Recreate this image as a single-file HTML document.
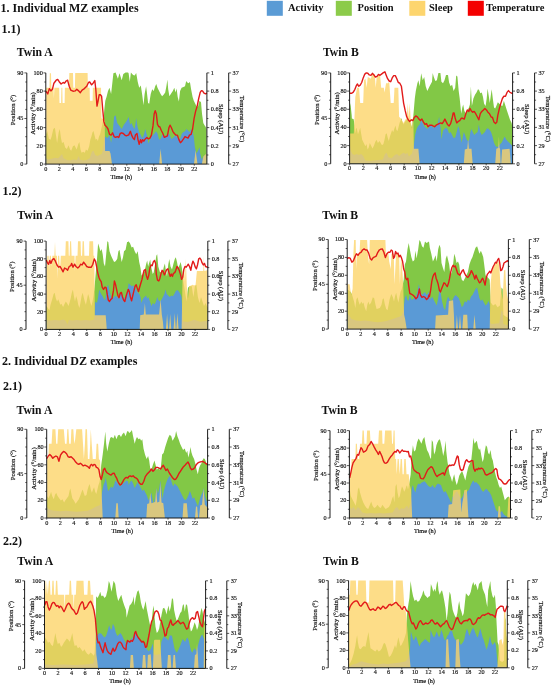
<!DOCTYPE html>
<html lang="en"><head><meta charset="utf-8"><title>Individual MZ and DZ twin examples</title>
<style>html,body{margin:0;padding:0;background:#fff}body{width:551px;height:685px;overflow:hidden}svg{display:block;will-change:transform}text{font-family:"Liberation Serif",serif}.b{font-weight:bold}</style></head><body>
<svg width="551" height="685" viewBox="0 0 551 685">
<rect width="551" height="685" fill="#fff"/>
<g class="b" font-size="12" fill="#111">
<text x="0.6" y="12.2">1. Individual MZ examples</text>
<text x="1.6" y="32.5">1.1)</text>
<text x="2.5" y="194.8">1.2)</text>
<text x="2" y="365.4">2. Individual DZ examples</text>
<text x="3" y="389.5">2.1)</text>
<text x="3" y="545.4">2.2)</text>
<text x="16.8" y="55.9" font-size="11.7">Twin A</text>
<text x="322.9" y="55.7" font-size="11.7">Twin B</text>
<text x="17.3" y="219" font-size="11.7">Twin A</text>
<text x="322.3" y="219" font-size="11.7">Twin B</text>
<text x="16.5" y="413.7" font-size="11.7">Twin A</text>
<text x="321.6" y="414" font-size="11.7">Twin B</text>
<text x="17.3" y="564.5" font-size="11.7">Twin A</text>
<text x="322.9" y="564.8" font-size="11.7">Twin B</text>
</g>
<g class="b" font-size="10.5" fill="#111">
<rect x="266.8" y="0.8" width="16" height="15" fill="#5a9bd5"/>
<text x="288" y="10.9">Activity</text>
<rect x="335.8" y="0.8" width="16" height="15" fill="#8ccb4a"/>
<text x="357.5" y="10.9">Position</text>
<rect x="409.3" y="0.8" width="16" height="15" fill="#fdd56e"/>
<text x="429" y="10.9">Sleep</text>
<rect x="467.8" y="0.8" width="16" height="15" fill="#f40000"/>
<text x="486" y="10.9">Temperature</text>
</g>
<g>
<path d="M46.2,164.1L46.2,134.3L47.3,131.1L48.9,138.7L50.5,139.8L51.6,136.5L53.3,128.9L54.9,127.8L56,135.4L57.1,143L58.7,132.2L59.8,128.9L60.9,137.6L62,143L63.6,142L65.2,147.4L66.9,149L68.5,145.2L70.1,149.6L71.2,150.7L72.9,146.3L74.5,145.2L75.6,147.4L76.7,149.6L78.3,144.1L79.4,142L80.5,149.6L81.6,152.8L83.2,151.8L84.8,152.8L85.9,149.6L87.6,150.7L89.2,146.3L90.3,139.8L91.4,136.5L92.5,132.2L93.5,131.1L94.6,135.4L95.7,139.8L96.8,138.7L97.9,140.9L99,136.5L100.1,134.3L101.2,128.9L102.3,124.5L102.8,121.3L103.1,124.4L104.2,110.7L105.3,100.8L106.5,97L108,90.9L109.5,87.8L111.1,93.9L112.3,83.2L113.4,73.3L115.6,72.6L117.9,78.7L119.5,73.3L121.7,80.2L123.3,74.1L125.6,72.6L128,72.6L128.6,73.3L129.8,81.7L130.9,72.6L133.1,74.9L134.7,75.6L136.2,72.9L137.7,81.7L139.2,87.8L140.8,85.5L142.3,95.4L143.5,105.3L144.6,93.9L146.1,86.3L146.9,92.4L148.1,103.1L149.2,103.8L150.7,93.9L152.2,89.3L153.7,90.9L155.2,86.3L156.3,84L157.5,87.8L159.1,90.9L160.6,93.9L162.1,96.2L163.6,94.7L165.2,92.4L166.4,86.3L167.4,79.4L168.2,89.3L169.4,96.2L171.3,93.2L172.8,90.9L174.3,87.8L175.5,92.4L176.6,88.6L177.7,97L178.9,101.5L180.1,90.9L181.6,87.8L183.5,87.1L185,86.3L186.2,81L187.3,82.5L188.8,83.2L189.9,81.7L191.1,89.3L192.6,97L193.8,100.8L194.9,103.1L196.4,106.1L197.9,106.9L199.5,100.8L201,102.3L202,113.7L203.3,122.9L204.5,125.2L205.6,126.7L206.5,129L206.5,164.1Z" fill="#82c846"/>
<path d="M46.2,164.1L46.2,158.3L48.4,159.4L51.6,158.8L54.9,157.7L58.2,158.3L60.3,156.1L62,153.9L63.6,158.3L66.9,159.9L70.1,160.5L73.4,159.4L76.7,159.9L78.8,156.1L79.9,159.4L83.2,160.5L86.5,159.9L89.7,158.3L91.9,151.8L93.5,150.7L95.2,155L97.4,156.1L99.5,155L101.7,153.9L102.8,150.7L104.2,138.1L105,136.6L107.3,138.1L109.5,135.1L111.1,142.7L112.6,133.5L114.1,116.8L115.6,115.3L117.2,122.9L119.5,125.9L121.7,129L124,124.4L126.3,121.4L128,118.3L128.6,116.8L130.1,124.4L131.6,122.9L133.1,126.7L134.7,129L136.2,118.3L137.7,127.5L139.2,132L140.8,135.1L142.3,138.1L143.8,135.1L145.3,129L146.9,135.1L148.4,143.5L149.9,139.6L151.4,136.6L153,135.1L154.5,133.5L156,131.3L157.5,133.5L159.1,139.6L160.6,138.9L162.1,135.1L163.6,135.1L165.2,136.6L166.7,135.1L168.2,133.5L169.7,135.1L171.3,138.9L172.8,138.1L174.3,136.6L175.8,135.1L177.4,137.4L178.9,139.6L180.4,138.1L181.9,133.5L183.5,132L185,131.3L186.5,129L188,130.5L189.5,132L191.1,129L192.6,132L193.8,136.6L194.9,147.3L196.4,153.4L197.9,151.1L199.5,147.3L200.2,153.4L201.7,159.5L203.3,156.4L204.8,155.2L206.5,154.1L206.5,164.1Z" fill="#5a9ad6"/>
<path d="M46.2,164.1L46.2,87.8L49.5,87.8L49.8,73.3L51,73.3L51.3,87.8L53.5,87.8L53.9,98.5L54.4,87.8L59.2,87.8L59.5,103.1L61.1,103.1L61.4,87.8L62.3,87.8L62.6,103.1L64.6,103.1L64.9,87.8L69,87.8L69.3,72.9L73,72.9L73.3,87.8L74.9,87.8L75.2,72.9L87.6,72.9L87.9,87.8L89.6,87.8L89.9,100.8L92.6,100.8L92.9,87.8L101,87.8L101.5,118.3L104.7,119.8L105.1,151.1L109.5,151.1L110.5,153.4L112,164L124,164.1L159.2,164.1L160.6,148.8L162.1,164.1L194,164.1L195.6,150.3L197.5,164.1L201.9,164.1L203.3,156.4L206.5,153.4L206.5,164.1Z" fill="#fdd466" fill-opacity="0.78"/>
<path d="M46.2,91.6L47.8,93.9L49.3,88.6L50.9,90.9L52.4,89.3L53.9,83.2L56.2,80.2L57.7,79.4L59.2,81.7L61.1,84L63.1,82.5L64.6,83.2L66.1,81L67.6,80.2L69.2,86.3L70.7,90.1L73,91.2L75.2,90.9L76.8,89.3L78.3,90.6L80.3,92.7L82.1,90.1L84.4,88.6L86.7,86.3L88.5,82.5L89.7,82L91.6,84.8L93.1,83.2L94.8,80.5L95.8,89.3L97,106.1L98.1,100.8L99.2,94.7L100.4,94.7L101.6,96.2L102.7,109.2L103.8,121.4L105,125.2L106.5,126.7L108,129L109.5,134.3L111.1,135.1L112.6,132.8L114.1,136.6L115.6,137.4L117.2,136.6L118.7,137.4L120.2,133.5L121.7,132.8L123.3,133.5L124.8,135.1L126.3,135.8L128,135.1L128.6,135.1L130.4,131.3L131.6,135.1L133.1,138.1L134.4,139.6L135.4,135.1L137,133.5L138,139.6L139.2,144.2L140.5,139.6L141.5,142.7L142.6,139.6L143.8,141.2L145.3,138.9L146.9,137.4L148.4,138.9L149.9,138.1L151.4,135.1L153,125.9L154.2,113.7L155.2,110.7L156.3,113.7L157.5,124.4L158.8,126.7L159.8,126.7L161.3,130.5L162.9,133.5L164.4,137.4L165.9,136.6L167.4,135.8L169,127.5L170,125.2L171.3,127.5L172.8,131.3L174.3,133.5L175.8,135.1L177.4,135.1L178.9,139.6L180.4,142.7L181.9,141.2L183.5,138.9L185,136.6L186.5,137.4L188,138.1L189.5,135.1L191.1,134.3L192.6,129L194.1,118.3L195.6,111.4L197.2,106.1L198.7,98.5L200.2,92.4L201.4,90.6L202.5,90.9L204,93.2L205.6,93.9L206.5,93.2" fill="none" stroke="#e21a1a" stroke-width="1.4" stroke-linejoin="round" stroke-linecap="round"/>
<path d="M45.8,72.9V164.1H206.9V72.9" stroke="#111" stroke-width="0.95" fill="none"/>
<path d="M26.8,72.9V164.1M228.7,72.9V164.1" stroke="#111" stroke-width="0.95" fill="none"/>
<path d="M45.8,72.9h-2.4M206.9,72.9h2.4M228.7,72.9h2.4M26.8,72.9h-2.4M45.8,82h-1.5M206.9,82h1.5M228.7,82h1.5M26.8,82h-1.5M45.8,91.1h-2.4M206.9,91.1h2.4M228.7,91.1h2.4M26.8,91.1h-1.5M45.8,100.3h-1.5M206.9,100.3h1.5M228.7,100.3h1.5M26.8,100.3h-1.5M45.8,109.4h-2.4M206.9,109.4h2.4M228.7,109.4h2.4M26.8,109.4h-1.5M45.8,118.5h-1.5M206.9,118.5h1.5M228.7,118.5h1.5M26.8,118.5h-2.4M45.8,127.6h-2.4M206.9,127.6h2.4M228.7,127.6h2.4M26.8,127.6h-1.5M45.8,136.7h-1.5M206.9,136.7h1.5M228.7,136.7h1.5M26.8,136.7h-1.5M45.8,145.9h-2.4M206.9,145.9h2.4M228.7,145.9h2.4M26.8,145.9h-1.5M45.8,155h-1.5M206.9,155h1.5M228.7,155h1.5M26.8,155h-1.5M45.8,164.1h-2.4M206.9,164.1h2.4M228.7,164.1h2.4M26.8,164.1h-2.4M45.8,164.1v1.6M59.3,164.1v1.6M72.8,164.1v1.6M86.3,164.1v1.6M99.8,164.1v1.6M113.3,164.1v1.6M126.8,164.1v1.6M140.3,164.1v1.6M153.8,164.1v1.6M167.3,164.1v1.6M180.8,164.1v1.6M194.3,164.1v1.6" stroke="#111" stroke-width="0.7" fill="none"/>
<g font-size="6.2" fill="#111" stroke="#111" stroke-width="0.15"><text x="42.8" y="74.8" text-anchor="end">100</text><text x="42.8" y="93" text-anchor="end">80</text><text x="42.8" y="111.3" text-anchor="end">60</text><text x="42.8" y="129.5" text-anchor="end">40</text><text x="42.8" y="147.8" text-anchor="end">20</text><text x="42.8" y="166" text-anchor="end">0</text><text x="210.8" y="74.9">1</text><text x="210.8" y="93.1">0.8</text><text x="210.8" y="111.4">0.6</text><text x="210.8" y="129.6">0.4</text><text x="210.8" y="147.9">0.2</text><text x="210.8" y="166.1">0</text><text x="232.6" y="74.9">37</text><text x="232.6" y="93.1">35</text><text x="232.6" y="111.4">33</text><text x="232.6" y="129.6">31</text><text x="232.6" y="147.9">29</text><text x="232.6" y="166.1">27</text><text x="23.4" y="74.8" text-anchor="end">90</text><text x="23.4" y="120.4" text-anchor="end">45</text><text x="23.4" y="166" text-anchor="end">0</text><text x="45.8" y="170.7" text-anchor="middle">0</text><text x="59.3" y="170.7" text-anchor="middle">2</text><text x="72.8" y="170.7" text-anchor="middle">4</text><text x="86.3" y="170.7" text-anchor="middle">6</text><text x="99.8" y="170.7" text-anchor="middle">8</text><text x="113.3" y="170.7" text-anchor="middle">10</text><text x="126.8" y="170.7" text-anchor="middle">12</text><text x="140.3" y="170.7" text-anchor="middle">14</text><text x="153.8" y="170.7" text-anchor="middle">16</text><text x="167.3" y="170.7" text-anchor="middle">18</text><text x="180.8" y="170.7" text-anchor="middle">20</text><text x="194.3" y="170.7" text-anchor="middle">22</text></g>
<g font-size="6.6" fill="#111" stroke="#111" stroke-width="0.18" text-anchor="middle">
<text transform="translate(15.2,110) rotate(-90)">Position (°)</text>
<text transform="translate(35.3,113.5) rotate(-90)">Activity (°/min)</text>
<text transform="translate(219,119.1) rotate(90)">Sleep (AU)</text>
<text transform="translate(239.6,119) rotate(90)">Temperature (°C)</text>
<text x="121.3" y="178.9" font-size="6.2">Time (h)</text>
</g>
</g>
<g>
<path d="M350,163.8L350,103.1L350.7,106.1L351.7,115.3L351.9,118.5L353.7,119.3L354.5,125.6L355.2,133.2L356.1,127.8L356.9,128.9L358,134.3L359.1,131.1L360.2,127.8L361.1,133.2L362.2,139.8L363.8,143L365.4,146.3L366.5,144.1L367.6,149.6L368.7,147.4L369.8,143L371.4,146.3L372.5,148.5L374.1,145.2L375.2,142L376.5,139.8L377.9,143L379.6,140.9L380.7,143L382,145.2L383.4,144.1L384.5,139.8L385.6,134.3L386.7,133.2L387.7,137.6L388.8,140.9L389.9,136.5L391,133.2L392.1,130L393.2,132.2L394.3,128.9L395.4,125.6L396.5,130L397.5,131.1L398.6,126.7L399.7,122.4L400.8,120.2L401.6,118L402.1,121.4L403.6,124.4L405.2,121.4L406.7,119.8L408.2,118.3L410.5,122.9L412,127.5L413.5,113.7L414.8,98.5L415.8,90.9L417.4,83.2L418.4,80.2L419.6,86.3L421.2,73.3L422.7,80.2L424.2,77.1L425.7,86.3L427.3,90.9L429.6,86.3L432,81.7L432.7,72.9L433.8,77.1L435.3,81L436.9,80.2L438.4,72.9L440.4,72.9L441.4,81.7L443,83.2L444.5,80.2L446,74.9L448,74.9L449.1,82.5L450.6,86.3L452.1,84.8L453.6,90.9L455.2,87.8L456.2,75.6L457.4,76.4L458.7,90.9L459.7,98.5L461.2,113.7L462.3,107.6L463.2,104.6L464.3,110.7L465.8,113.7L467.3,110.7L468.9,107.6L469.9,104.6L470.9,86.3L471.9,106.1L473.4,98.5L475,94.7L476.5,92.4L478,89.3L479.1,90.1L480.3,93.2L481.8,92.4L483,97L484.1,103.8L485.6,106.1L486.7,98.5L487.6,88.6L488.7,95.4L489.8,103.1L491,93.9L491.7,89.3L492.8,98.5L494,107.6L495.2,108.4L496.3,106.1L497.8,102.3L499.4,103.8L500.9,105.3L502.4,106.1L503.9,100.8L505.5,106.1L507,110.7L508.5,115.3L510,119.8L511.6,122.9L512.2,125.9L512.2,163.8Z" fill="#82c846"/>
<path d="M350,163.8L350,145.2L350.7,150.7L352.4,153.9L354.5,155L356.7,153.9L358.9,155L361.1,153.9L363.2,156.1L365.4,160.5L369.8,161L374.1,160.5L378.5,159.9L382.8,159.4L385,153.9L386.7,152.8L388.3,157.2L391.6,158.3L394.8,155L397,153.9L399.2,156.1L401.4,153.9L403.5,152.8L405.7,153.9L407.3,152.8L409,156.4L412,153.4L413.9,144.2L415.1,135.1L416.6,129L418.1,125.9L419.6,124.4L421.2,119.8L422.7,122.9L424.2,125.9L425.7,127.5L427.3,129L429.6,125.9L432,124.4L433,128.2L434.6,125.9L436.1,126.7L437.6,124.4L439.1,116.8L440.7,129L441.4,139.6L443,130.5L444.5,129L446,127.5L447.5,129L449.1,133.5L450.6,132L452.1,135.1L453.6,138.1L455.2,137.4L456.7,132L458.2,125.9L459.3,129L460.5,136.6L461.7,142.7L462.8,136.6L463.8,132L465.1,135.1L466.6,139.6L468.1,141.2L469.3,139.6L470.4,132L471.5,129L472.7,132L474.2,135.1L475.7,133.5L477.6,132L478.8,124.4L480.3,132L481.8,135.1L483.4,133.5L484.9,132L486.4,129L487.9,128.2L489.5,129.7L491,132L492.5,136.6L494,142.7L495.5,145.7L497.1,147.3L498.6,145.7L500.1,144.2L501.6,142.7L503.2,139.6L504.7,136.6L506.2,139.6L507.7,141.2L509.3,142.7L510.8,144.2L512.2,145.7L512.2,163.8Z" fill="#5a9ad6"/>
<path d="M350,163.8L350,133.5L353.8,133.5L355.3,97L357.1,87.8L359,87.8L360.2,103.1L363.2,103.1L364,80.2L365.5,78.7L366.6,87.8L367.8,77.1L370.9,78.7L372.1,74.1L374.7,74.1L375.7,87.8L376.7,77.1L378.5,75.6L380,74.1L381.2,87.8L383.8,87.8L384.6,92.4L385.3,87.8L386.1,83.2L387.9,83.2L389.2,81.7L390.7,103.1L393.7,103.1L394.5,87.8L398.3,87.8L399.1,116.8L400.6,118.3L402.1,120.6L403.6,122.9L405.2,119.8L406.7,118.3L407.8,103.1L408.7,118.3L409.7,103.1L410.8,121.4L412,129L413.2,113.7L413.9,148.8L418.4,148.8L419.6,163.8L430,163.8L463.8,163.8L464.8,149.6L467.3,148.8L468.1,138.9L468.9,148.8L471.5,148.8L472.7,163.8L495.2,163.8L496.3,148.8L498.3,148L498.9,136.6L499.5,148L500.1,148.8L500.6,163.8L501.2,163.8L502.1,149.6L509.6,148.8L510.8,163.8L512.2,163.8L512.2,163.8Z" fill="#fdd466" fill-opacity="0.78"/>
<path d="M350,93.2L351.8,93.2L353.3,92.1L354.9,89.3L356.4,85.5L357.5,84L358.7,86.3L360.2,85.1L361.7,82.5L363.2,77.9L364.8,74.1L366.3,72.9L367.8,73.3L369.3,74.9L370.9,75.3L372.4,73.3L373.9,74.9L375.4,77.1L377,76.4L378.5,74.4L380,75.3L381.5,74.1L383.4,72.6L384.9,71.8L386.1,74.9L387.6,78.7L389.2,81L390.7,81.7L392.2,77.9L393.7,75.6L395.3,75.6L396.8,78.7L398.3,82.5L399.8,83.2L401.4,86.3L402.6,95.4L403.6,103.1L405.2,110.7L406.7,116.8L408.2,119.8L409.7,121.4L411.3,119.8L412.8,120.6L414.3,117.5L415.8,116L417.4,116.8L418.9,119.1L420.4,120.6L421.9,119.1L423.5,122.1L425,124.4L426.5,123.6L428,126.7L429.6,125.2L432,125.2L433,125.9L434.6,126.7L436.1,125.2L437.6,124.4L439.1,123.6L440.7,122.9L442.2,123.6L443.7,121.4L444.9,119.1L446,121.4L447.5,124.4L449.1,125.9L450.6,123.6L452.1,118.3L453.2,113L454.1,113L455.2,118.3L456.7,122.9L458.2,121.4L459.7,120.6L461.2,118.3L462.8,118.3L464.3,119.1L465.8,113.7L467.3,109.9L468.9,111.4L469.9,108.4L471.2,110.7L472.7,112.2L474.2,111.4L475.7,113.7L477.3,116.8L478.8,119.8L480.3,113.7L481.8,111.4L483.4,109.9L484.9,108.4L486.4,109.9L487.9,112.2L489.5,113.7L491,116.8L492.5,117.5L494,122.1L495.5,123.6L496.8,122.1L497.8,115.3L499.4,108.4L500.9,103.1L502.4,98.5L503.9,96.2L505.5,96.2L507,92.4L508.5,90.6L510,92.4L511.6,93.2L512.2,93.2" fill="none" stroke="#e21a1a" stroke-width="1.4" stroke-linejoin="round" stroke-linecap="round"/>
<path d="M349.6,72.9V163.8H512.6V72.9" stroke="#111" stroke-width="0.95" fill="none"/>
<path d="M330.7,72.9V163.8M534.6,72.9V163.8" stroke="#111" stroke-width="0.95" fill="none"/>
<path d="M349.6,72.9h-2.4M512.6,72.9h2.4M534.6,72.9h2.4M330.7,72.9h-2.4M349.6,82h-1.5M512.6,82h1.5M534.6,82h1.5M330.7,82h-1.5M349.6,91.1h-2.4M512.6,91.1h2.4M534.6,91.1h2.4M330.7,91.1h-1.5M349.6,100.2h-1.5M512.6,100.2h1.5M534.6,100.2h1.5M330.7,100.2h-1.5M349.6,109.3h-2.4M512.6,109.3h2.4M534.6,109.3h2.4M330.7,109.3h-1.5M349.6,118.4h-1.5M512.6,118.4h1.5M534.6,118.4h1.5M330.7,118.4h-2.4M349.6,127.4h-2.4M512.6,127.4h2.4M534.6,127.4h2.4M330.7,127.4h-1.5M349.6,136.5h-1.5M512.6,136.5h1.5M534.6,136.5h1.5M330.7,136.5h-1.5M349.6,145.6h-2.4M512.6,145.6h2.4M534.6,145.6h2.4M330.7,145.6h-1.5M349.6,154.7h-1.5M512.6,154.7h1.5M534.6,154.7h1.5M330.7,154.7h-1.5M349.6,163.8h-2.4M512.6,163.8h2.4M534.6,163.8h2.4M330.7,163.8h-2.4M349.6,163.8v1.6M363.3,163.8v1.6M376.9,163.8v1.6M390.6,163.8v1.6M404.2,163.8v1.6M417.9,163.8v1.6M431.5,163.8v1.6M445.2,163.8v1.6M458.9,163.8v1.6M472.5,163.8v1.6M486.2,163.8v1.6M499.8,163.8v1.6" stroke="#111" stroke-width="0.7" fill="none"/>
<g font-size="6.2" fill="#111" stroke="#111" stroke-width="0.15"><text x="346.6" y="74.8" text-anchor="end">100</text><text x="346.6" y="93" text-anchor="end">80</text><text x="346.6" y="111.2" text-anchor="end">60</text><text x="346.6" y="129.3" text-anchor="end">40</text><text x="346.6" y="147.5" text-anchor="end">20</text><text x="346.6" y="165.7" text-anchor="end">0</text><text x="516.5" y="74.9">1</text><text x="516.5" y="93.1">0.8</text><text x="516.5" y="111.3">0.6</text><text x="516.5" y="129.4">0.4</text><text x="516.5" y="147.6">0.2</text><text x="516.5" y="165.8">0</text><text x="538.5" y="74.9">37</text><text x="538.5" y="93.1">35</text><text x="538.5" y="111.3">33</text><text x="538.5" y="129.4">31</text><text x="538.5" y="147.6">29</text><text x="538.5" y="165.8">27</text><text x="327.3" y="74.8" text-anchor="end">90</text><text x="327.3" y="120.3" text-anchor="end">45</text><text x="327.3" y="165.7" text-anchor="end">0</text><text x="349.6" y="170.4" text-anchor="middle">0</text><text x="363.3" y="170.4" text-anchor="middle">2</text><text x="376.9" y="170.4" text-anchor="middle">4</text><text x="390.6" y="170.4" text-anchor="middle">6</text><text x="404.2" y="170.4" text-anchor="middle">8</text><text x="417.9" y="170.4" text-anchor="middle">10</text><text x="431.5" y="170.4" text-anchor="middle">12</text><text x="445.2" y="170.4" text-anchor="middle">14</text><text x="458.9" y="170.4" text-anchor="middle">16</text><text x="472.5" y="170.4" text-anchor="middle">18</text><text x="486.2" y="170.4" text-anchor="middle">20</text><text x="499.8" y="170.4" text-anchor="middle">22</text></g>
<g font-size="6.6" fill="#111" stroke="#111" stroke-width="0.18" text-anchor="middle">
<text transform="translate(319.1,109.9) rotate(-90)">Position (°)</text>
<text transform="translate(339.1,113.4) rotate(-90)">Activity (°/min)</text>
<text transform="translate(524.7,119) rotate(90)">Sleep (AU)</text>
<text transform="translate(545.5,118.9) rotate(90)">Temperature (°C)</text>
<text x="425.1" y="178.6" font-size="6.2">Time (h)</text>
</g>
</g>
<g>
<path d="M46.5,329.4L46.5,305.9L47.8,308L49.4,310.2L50.5,304.8L52.2,299.3L53.6,293.9L54.7,292.8L55.8,298.2L57.1,301.5L58.2,299.3L59.2,301.5L60.3,304.8L61.4,303.7L63.1,307L64.1,304.8L65.8,301.5L67.4,303.7L68.5,305.9L69.6,302.6L70.7,298.2L71.8,292.8L72.9,289.5L73.9,296.1L75,301.5L76.1,296.1L77.2,299.3L78.3,304.8L79.4,308L80.5,302.6L81.6,296.1L82.7,292.8L83.7,297.2L84.8,301.5L85.9,304.8L87,299.3L88.1,293.9L89.2,297.2L90.3,302.6L91.4,305.9L92.5,301.5L93.5,296.1L94.3,289.5L94.6,286.3L95.8,272.6L97,258.9L98.1,243.6L99.2,246.7L100.4,251.2L101.6,249L102.7,254.3L103.8,263.4L105,266.5L106.2,254.3L107.3,241.3L108.3,242.1L109.5,251.2L111.1,255.8L112.6,258.9L114.1,261.9L115.6,261.2L117.2,258.9L118.4,251.2L119.5,249.7L120.5,255.8L121.7,261.9L123,257.3L124,251.2L125.6,249.7L127.1,242.1L128,242.1L128.6,241.3L130.1,243.6L131.6,247.4L133.1,246.7L134.7,251.2L136.2,254.3L137.7,251.2L139.2,261.9L140.5,268L141.5,275.6L143.1,274.1L144.6,271.1L146.1,264.2L147.2,260.4L148.1,266.5L149.2,262.7L150.2,259.6L151.4,268L152.7,274.1L153.7,272.6L155.2,263.4L156.3,255.8L157.2,254.3L158.3,266.5L159.8,271.8L161.3,272.6L162.9,271.1L163.9,266.5L164.9,263.4L165.9,271.1L167,276.4L168.2,265L169.3,258.9L170.5,266.5L172,269.5L173.5,263.4L174.8,258.9L175.8,257.3L177,261.9L178.1,268L179.6,265L180.7,261.9L181.9,268L183.1,280.2L184.2,286.3L186.5,301.5L188,287.8L189.5,286.3L191.8,286.3L193.4,297L194.9,286.3L196.4,284.8L197.9,297L199.5,303.1L201,297L202.5,301.5L204,306.1L205.6,303.1L207.4,307.6L207.4,329.4Z" fill="#82c846"/>
<path d="M46.5,329.4L46.5,320L50.5,320.6L54.9,320L59.2,320.6L63.6,319.5L65.8,321.1L67.4,324.4L69,320L72.3,320.6L76.7,320L81,320.6L85.4,320L89.7,320.6L93,320L94.3,318.9L95.1,303.1L95.8,301.5L97,303.1L98.1,297L99.2,289.4L100.4,292.4L101.6,294.7L102.7,296.2L103.8,298.5L105,300L106.2,293.9L107.3,286.3L108.3,284.8L109.5,290.9L111.1,297L112.6,298.5L114.1,297L115.6,295.5L117.2,297L118.7,298.5L120.2,293.9L121.7,292.4L123.3,297L124.8,298.5L126.3,293.9L128,287.8L128.6,283.3L130.1,284.8L131.6,286.3L133.1,285.5L134.7,287.8L136.2,289.4L137.7,292.4L139.2,293.9L140.5,297L141.5,303.1L143.1,298.5L144.6,297L146.1,295.5L147.2,298.5L148.4,297L149.9,301.5L151.4,306.1L153,303.1L154.5,304.6L156,301.5L157.2,297L158.3,300L159.8,301.5L161.3,300L162.9,297L164.4,293.9L165.5,289.4L166.7,293.9L168.2,295.5L169.7,297L171.3,295.5L172.8,296.2L174.3,293.9L175.8,290.9L177.4,290.1L178.9,291.6L180.4,293.9L181.6,297L182.5,315.3L183.1,321.4L188,322.1L194.1,319.8L200.2,321.7L207.4,320.8L207.4,329.4Z" fill="#5a9ad6"/>
<path d="M46.5,329.4L46.5,271.1L47.4,255.8L48.6,255.8L49,271.1L49.8,255.8L50.9,255.8L51.6,266.5L52.4,255.8L54.4,255.8L55,242.1L55.6,255.8L57,255.8L57.4,278.7L58,255.8L59.2,255.8L60,271.1L60.8,255.8L65.3,255.8L65.8,241.3L68.4,241.3L68.8,255.8L69.6,255.8L70.1,241.3L71.1,241.3L71.6,255.8L74.5,255.8L74.9,271.1L75.6,255.8L77.5,255.8L78,241.3L80.6,241.3L81,255.8L82.1,255.8L82.6,241.3L83.9,241.3L84.4,255.8L89,255.8L89.4,241.3L93.1,241.3L93.5,255.8L94.3,255.8L94.8,315.3L105.7,315.3L106.8,329.4L124,329.4L139.7,329.4L140.2,315.3L143.8,314.5L144.9,303.1L145.8,314.5L159.1,314.5L160.6,299.3L161.8,314.5L162.9,321.4L163.6,329.4L165.9,329.4L167.1,313.7L168.2,329.4L169.1,329.4L170.2,313.7L171.3,329.4L173.5,329.4L174.8,313L175.8,329.4L176.3,329.4L177.4,313L178.6,329.4L181.6,329.4L182.7,271.1L184.2,268.8L185,281.7L185.7,258.9L186.2,268.8L186.8,286.3L188,298.5L189.2,286.3L191.1,285.5L192.6,284.8L194.1,285.5L195.6,284.8L196.9,271.1L203.3,271.1L203.7,255.8L204.3,271.1L207.1,270.3L207.4,270.3L207.4,329.4Z" fill="#fdd466" fill-opacity="0.78"/>
<path d="M46.5,260.4L47.4,262.7L48.6,264.2L49.8,260.4L50.9,263.4L52.4,259.6L53.9,258.6L55.4,261.2L57,265L58.5,267.2L60,266.5L61.5,268.8L63.1,271.8L64.6,268L66.1,268.8L67.6,270.3L69.2,266.5L70.7,265.7L71.7,263.4L73,267.2L74.5,264.2L76,266.5L77.8,268L79.4,266.5L80.6,264.2L82.1,265L83.6,262.2L85.2,264.2L86.7,266.5L88.2,267.2L89.7,267.2L91.3,267.2L92.8,264.2L94.3,258.9L95.5,261.2L96.6,266.5L97.7,272.6L98.9,277.2L100.1,280.2L101.2,281.7L102.2,287.1L103.5,289.4L105,287.1L106.2,287.8L107.3,294.7L108.3,300L109.5,301.5L110.8,299.3L112,298.5L113.4,290.9L114.4,281L115.6,284.8L116.9,290.9L117.9,295.5L119,297.7L120.2,293.2L121.4,292.4L122.5,297L123.6,300L124.8,301.5L126.3,295.5L128,290.1L128.3,289.4L129.3,291.6L130.4,297L131.6,300.8L132.8,295.5L133.9,290.9L135,286.3L136.2,284.8L137.4,288.6L138.5,291.6L139.5,287.8L140.8,283.3L142,279.4L143.1,274.1L144.1,270.3L145.3,269.5L146.4,275.6L147.6,279.4L148.7,275.6L149.9,268L151.1,265L152.2,265.7L153.3,261.9L154.5,260.4L155.6,263.4L156.3,274.1L157.5,280.2L158.8,281L159.8,278.7L160.9,274.1L162.1,270.3L163.3,271.8L164.4,274.9L165.5,272.6L166.7,269.5L167.9,268.8L169,272.6L170.2,276.4L171.3,274.1L172.5,276.4L173.5,273.3L174.8,272.6L175.8,270.3L177,266.5L178.1,268L179.2,270.3L180.4,274.1L181.6,279.4L182.7,277.2L183.8,269.5L185,266.5L186.2,267.2L187.3,265.7L188.3,264.2L189.5,266.5L190.8,270.3L191.8,265L192.9,261.2L194.1,263.4L195.3,267.2L196.4,268.8L197.5,265L198.7,258.9L199.9,258.1L201,259.6L202,262.7L203.3,265L204.5,263.4L205.6,266.5L207.1,267.2L207.4,267.2" fill="none" stroke="#e21a1a" stroke-width="1.4" stroke-linejoin="round" stroke-linecap="round"/>
<path d="M46.1,241.1V329.4H207.8V241.1" stroke="#111" stroke-width="0.95" fill="none"/>
<path d="M26,241.1V329.4M227.9,241.1V329.4" stroke="#111" stroke-width="0.95" fill="none"/>
<path d="M46.1,241.1h-2.4M207.8,241.1h2.4M227.9,241.1h2.4M26,241.1h-2.4M46.1,249.9h-1.5M207.8,249.9h1.5M227.9,249.9h1.5M26,249.9h-1.5M46.1,258.8h-2.4M207.8,258.8h2.4M227.9,258.8h2.4M26,258.8h-1.5M46.1,267.6h-1.5M207.8,267.6h1.5M227.9,267.6h1.5M26,267.6h-1.5M46.1,276.4h-2.4M207.8,276.4h2.4M227.9,276.4h2.4M26,276.4h-1.5M46.1,285.2h-1.5M207.8,285.2h1.5M227.9,285.2h1.5M26,285.2h-2.4M46.1,294.1h-2.4M207.8,294.1h2.4M227.9,294.1h2.4M26,294.1h-1.5M46.1,302.9h-1.5M207.8,302.9h1.5M227.9,302.9h1.5M26,302.9h-1.5M46.1,311.7h-2.4M207.8,311.7h2.4M227.9,311.7h2.4M26,311.7h-1.5M46.1,320.6h-1.5M207.8,320.6h1.5M227.9,320.6h1.5M26,320.6h-1.5M46.1,329.4h-2.4M207.8,329.4h2.4M227.9,329.4h2.4M26,329.4h-2.4M46.1,329.4v1.6M59.6,329.4v1.6M73.2,329.4v1.6M86.7,329.4v1.6M100.3,329.4v1.6M113.8,329.4v1.6M127.4,329.4v1.6M140.9,329.4v1.6M154.5,329.4v1.6M168,329.4v1.6M181.6,329.4v1.6M195.1,329.4v1.6" stroke="#111" stroke-width="0.7" fill="none"/>
<g font-size="6.2" fill="#111" stroke="#111" stroke-width="0.15"><text x="43.1" y="243" text-anchor="end">100</text><text x="43.1" y="260.7" text-anchor="end">80</text><text x="43.1" y="278.3" text-anchor="end">60</text><text x="43.1" y="296" text-anchor="end">40</text><text x="43.1" y="313.6" text-anchor="end">20</text><text x="43.1" y="331.3" text-anchor="end">0</text><text x="211.7" y="243.1">1</text><text x="211.7" y="260.8">0.8</text><text x="211.7" y="278.4">0.6</text><text x="211.7" y="296.1">0.4</text><text x="211.7" y="313.7">0.2</text><text x="211.7" y="331.4">0</text><text x="231.8" y="243.1">37</text><text x="231.8" y="260.8">35</text><text x="231.8" y="278.4">33</text><text x="231.8" y="296.1">31</text><text x="231.8" y="313.7">29</text><text x="231.8" y="331.4">27</text><text x="22.6" y="243" text-anchor="end">90</text><text x="22.6" y="287.1" text-anchor="end">45</text><text x="22.6" y="331.3" text-anchor="end">0</text><text x="46.1" y="336" text-anchor="middle">0</text><text x="59.6" y="336" text-anchor="middle">2</text><text x="73.2" y="336" text-anchor="middle">4</text><text x="86.7" y="336" text-anchor="middle">6</text><text x="100.3" y="336" text-anchor="middle">8</text><text x="113.8" y="336" text-anchor="middle">10</text><text x="127.4" y="336" text-anchor="middle">12</text><text x="140.9" y="336" text-anchor="middle">14</text><text x="154.5" y="336" text-anchor="middle">16</text><text x="168" y="336" text-anchor="middle">18</text><text x="181.6" y="336" text-anchor="middle">20</text><text x="195.1" y="336" text-anchor="middle">22</text></g>
<g font-size="6.6" fill="#111" stroke="#111" stroke-width="0.18" text-anchor="middle">
<text transform="translate(14.4,276.8) rotate(-90)">Position (°)</text>
<text transform="translate(35.6,280.2) rotate(-90)">Activity (°/min)</text>
<text transform="translate(218.9,285.9) rotate(90)">Sleep (AU)</text>
<text transform="translate(238.8,285.8) rotate(90)">Temperature (°C)</text>
<text x="121.6" y="344.2" font-size="6.2">Time (h)</text>
</g>
</g>
<g>
<path d="M347.6,329.1L347.6,289.5L348.8,290.6L350.4,291.7L351.8,293.9L352.8,297.2L354.3,302.6L355.3,308L356.4,299.3L357.5,297.2L358.6,301.5L359.7,304.8L361.3,301.5L362.4,303.7L363.5,302.6L364.6,307L366.2,311.3L367.3,304.8L368.4,301.5L369.5,304.8L371.1,302.6L372.8,297.2L374.2,298.2L375.5,304.8L376.6,309.1L378.2,308.6L379.8,308L381.5,304.8L382.6,299.3L383.7,298.2L384.7,303.7L386.2,309.1L387.5,310.2L388.6,304.8L389.6,299.3L391.3,293.9L392.9,297.2L394,301.5L395.1,296.1L396.2,292.8L397.3,298.2L398.4,302.6L399.4,297.2L400.5,291.7L401.6,289.5L402.7,285.2L403.7,279.7L404.8,264.5L406,261.4L407.5,249.2L408.7,243.1L409.8,249.2L411.3,256.9L412.8,261.4L414.4,259.9L415.4,250.8L416.6,258.4L418.2,249.2L419.4,240.1L420.5,241.6L422,246.2L423.5,247.7L425,241.6L426.6,243.1L429,241.6L429.8,247.7L431.3,253.8L432.9,261.4L434.4,258.4L435.5,255.3L436.7,261.4L438.2,249.2L439.4,244.7L440.5,247.7L441.5,263L442.8,267.5L444.3,272.1L445.8,258.4L447,255.3L448.1,259.9L449.2,264.5L450.4,275.2L451.9,272.1L453.1,264.5L454.2,253.8L455.3,256.9L456.5,263L458,261.4L459.2,264.5L460.3,273.6L461.8,279.7L463.3,281.3L464.9,278.2L466.4,275.2L467.9,272.1L469.4,264.5L471,259.9L472.5,256.9L474,252.3L475.5,247.7L477.1,246.2L478.1,249.2L479.4,253.8L480.9,250.8L482.1,253.8L483.2,256.9L484.2,264.5L485.5,275.2L487,276.7L488.5,278.2L489.7,279.7L490.8,302.6L493.1,305.6L495.4,304.1L497.6,307.2L499.9,305.6L501.5,287.4L502.7,288.9L503.4,314.8L505.3,316.3L508,317.8L508,329.1Z" fill="#82c846"/>
<path d="M347.6,329.1L347.6,313.5L349.4,315.7L351.5,318.9L355.9,320.6L360.2,321.1L364.6,320.6L369,321.1L373.3,321.7L377.7,322.2L382,321.7L386.4,321.1L389.6,320L392.9,318.9L396.2,317.8L399.4,316.8L401.6,315.7L403.3,311.3L403.7,307.2L404.8,298L406,295L407.2,299.5L408.3,301.1L409.8,295L411.3,299.5L412.8,299.5L414.4,298L415.9,296.5L417.4,291.9L418.9,284.3L420.5,291.9L422,295L423.5,293.5L425,291.9L426.6,295L429,291.9L430.6,299.5L432.1,296.5L433.6,299.5L435.1,302.6L436.7,305.6L438.2,298L439.4,290.4L440.5,291.9L442,301.1L443.5,307.2L445.1,310.2L446.6,301.1L448.1,296.5L449.6,299.5L451.2,301.1L452.7,299.5L454.2,296.5L455.7,295L457.2,296.5L458.8,298L460.3,302.6L461.8,307.2L463.3,305.6L464.9,301.1L466.4,302.6L467.9,299.5L469.4,301.1L471,296.5L472.5,295L474,291.9L475.5,288.9L477.1,287.4L478.1,291.9L479.4,298L480.9,301.1L482.4,299.5L483.9,302.6L485.5,305.6L487,304.1L488.5,301.1L489.7,304.1L490.3,322.4L491.5,323.9L499.2,323.2L501.5,310.2L502.7,311.7L503.4,323.9L508,325.5L508,329.1Z" fill="#5a9ad6"/>
<path d="M347.6,329.1L347.6,284.3L349.6,284.3L351.1,295L352.6,288.9L353.4,253.8L354.1,240.1L355.7,240.1L356.1,269.1L356.9,253.8L359.5,253.8L360.2,240.1L367.1,240.1L367.9,253.8L369.1,264.5L369.8,240.1L385.4,240.1L385.9,253.8L388.4,253.8L389.2,261.4L390.7,269.1L391.5,253.8L393.8,253.8L394.5,284.3L396.1,253.8L399.1,253.8L399.9,284.3L401.1,253.8L402.2,269.1L403.2,284.3L404.1,314.8L405.2,319.4L406.7,329.1L426,329.1L435.1,329.1L435.8,315.6L448.1,314.8L448.9,301.1L453.1,300.3L453.9,314.8L454.4,329.1L455.9,329.1L456.9,314.8L458,329.1L458.9,329.1L460,314.8L461.1,329.1L462.3,329.1L463.3,314.8L467.2,314.8L467.9,329.1L473.3,329.1L474.5,314.8L475.7,329.1L489.7,329.1L490.6,284.3L491.9,270.6L493.1,267.5L494.6,264.5L496.4,263L498.4,261.4L499.5,269.1L500.4,284.3L501.5,291.9L502.5,299.5L503.4,284.3L504,270.6L505.3,269.8L506,284.3L507.1,295L508,299.5L508,329.1Z" fill="#fdd466" fill-opacity="0.78"/>
<path d="M347.6,258.4L348.8,257.6L350.3,258.4L351.9,262.2L353.4,260.7L354.9,256.9L356.4,253.8L358,255.3L359.5,253.1L361,252.3L362.5,250L364.1,248.9L365.6,250L367.1,250L368.6,253.1L370.2,258.4L371.7,259.9L373.2,257.6L374.7,256.9L376.2,256.1L377.8,252.3L379.3,250L380.8,249.2L382.3,248.9L383.9,252.3L385.4,257.6L386.9,253.8L388.4,252.3L390,252.3L391.2,250L392.3,250.8L393.5,258.4L394.5,256.9L395.6,251.5L396.8,253.8L398,253.1L399.1,256.9L400.2,255.3L401.4,257.6L402.6,261.4L403.7,269.1L404.8,272.1L405.7,278.2L406.7,279.7L407.8,278.2L408.7,285.8L409.8,293.5L411.3,294.2L412.8,295L414.4,296.5L415.9,298.8L417.4,297.3L418.5,293.5L419.4,288.9L420.5,295L422,297.3L423.5,296.5L425,297.3L426.6,299.5L428.1,298L429,295L429.4,296.5L430.6,290.4L431.8,281.3L432.9,276.7L433.9,274.4L435.1,272.9L436.1,278.2L437,280.5L438.2,284.3L439.4,290.4L440.5,291.9L441.5,288.9L442.8,285.8L444,282.8L445.1,283.5L446.1,285.1L447.3,286.6L448.6,282.8L449.6,278.2L450.7,272.1L451.9,267.5L453.1,265.2L454.2,266.8L455.3,266L456.5,269.8L457.7,273.6L458.8,274.4L459.8,275.2L461.1,272.9L462.3,270.6L463.3,269.8L464.4,272.9L465.6,275.2L466.9,276.7L467.9,277.4L469,275.9L470.2,273.6L471.4,270.6L472.5,272.9L473.6,275.2L474.8,279L476,275.2L477.1,278.2L478.3,280.5L479.4,282.8L480.6,282L481.6,279.7L482.7,278.2L483.9,281.3L485.1,285.1L486.2,278.2L487.3,274.4L488.5,272.9L489.7,271.3L490.8,272.9L491.9,269.8L493.1,266.8L494.3,264.5L495.4,262.2L496.4,263L497.6,259.9L498.7,258.4L499.6,262.2L500.7,270.6L501.9,269.8L503,266.8L504,263L505.3,262.2L506.5,261.4L507.6,260.7L508,261.4" fill="none" stroke="#e21a1a" stroke-width="1.4" stroke-linejoin="round" stroke-linecap="round"/>
<path d="M347.2,239.5V329.1H508.4V239.5" stroke="#111" stroke-width="0.95" fill="none"/>
<path d="M328.2,239.5V329.1M529.3,239.5V329.1" stroke="#111" stroke-width="0.95" fill="none"/>
<path d="M347.2,239.5h-2.4M508.4,239.5h2.4M529.3,239.5h2.4M328.2,239.5h-2.4M347.2,248.5h-1.5M508.4,248.5h1.5M529.3,248.5h1.5M328.2,248.5h-1.5M347.2,257.4h-2.4M508.4,257.4h2.4M529.3,257.4h2.4M328.2,257.4h-1.5M347.2,266.4h-1.5M508.4,266.4h1.5M529.3,266.4h1.5M328.2,266.4h-1.5M347.2,275.3h-2.4M508.4,275.3h2.4M529.3,275.3h2.4M328.2,275.3h-1.5M347.2,284.3h-1.5M508.4,284.3h1.5M529.3,284.3h1.5M328.2,284.3h-2.4M347.2,293.3h-2.4M508.4,293.3h2.4M529.3,293.3h2.4M328.2,293.3h-1.5M347.2,302.2h-1.5M508.4,302.2h1.5M529.3,302.2h1.5M328.2,302.2h-1.5M347.2,311.2h-2.4M508.4,311.2h2.4M529.3,311.2h2.4M328.2,311.2h-1.5M347.2,320.1h-1.5M508.4,320.1h1.5M529.3,320.1h1.5M328.2,320.1h-1.5M347.2,329.1h-2.4M508.4,329.1h2.4M529.3,329.1h2.4M328.2,329.1h-2.4M347.2,329.1v1.6M360.7,329.1v1.6M374.2,329.1v1.6M387.7,329.1v1.6M401.2,329.1v1.6M414.7,329.1v1.6M428.2,329.1v1.6M441.7,329.1v1.6M455.3,329.1v1.6M468.8,329.1v1.6M482.3,329.1v1.6M495.8,329.1v1.6" stroke="#111" stroke-width="0.7" fill="none"/>
<g font-size="6.2" fill="#111" stroke="#111" stroke-width="0.15"><text x="344.2" y="241.4" text-anchor="end">100</text><text x="344.2" y="259.3" text-anchor="end">80</text><text x="344.2" y="277.2" text-anchor="end">60</text><text x="344.2" y="295.2" text-anchor="end">40</text><text x="344.2" y="313.1" text-anchor="end">20</text><text x="344.2" y="331" text-anchor="end">0</text><text x="512.3" y="241.5">1</text><text x="512.3" y="259.4">0.8</text><text x="512.3" y="277.3">0.6</text><text x="512.3" y="295.3">0.4</text><text x="512.3" y="313.2">0.2</text><text x="512.3" y="331.1">0</text><text x="533.2" y="241.5">37</text><text x="533.2" y="259.4">35</text><text x="533.2" y="277.3">33</text><text x="533.2" y="295.3">31</text><text x="533.2" y="313.2">29</text><text x="533.2" y="331.1">27</text><text x="324.8" y="241.4" text-anchor="end">90</text><text x="324.8" y="286.2" text-anchor="end">45</text><text x="324.8" y="331" text-anchor="end">0</text><text x="347.2" y="335.7" text-anchor="middle">0</text><text x="360.7" y="335.7" text-anchor="middle">2</text><text x="374.2" y="335.7" text-anchor="middle">4</text><text x="387.7" y="335.7" text-anchor="middle">6</text><text x="401.2" y="335.7" text-anchor="middle">8</text><text x="414.7" y="335.7" text-anchor="middle">10</text><text x="428.2" y="335.7" text-anchor="middle">12</text><text x="441.7" y="335.7" text-anchor="middle">14</text><text x="455.3" y="335.7" text-anchor="middle">16</text><text x="468.8" y="335.7" text-anchor="middle">18</text><text x="482.3" y="335.7" text-anchor="middle">20</text><text x="495.8" y="335.7" text-anchor="middle">22</text></g>
<g font-size="6.6" fill="#111" stroke="#111" stroke-width="0.18" text-anchor="middle">
<text transform="translate(316.6,275.8) rotate(-90)">Position (°)</text>
<text transform="translate(336.7,279.3) rotate(-90)">Activity (°/min)</text>
<text transform="translate(520.5,284.9) rotate(90)">Sleep (AU)</text>
<text transform="translate(540.2,284.8) rotate(90)">Temperature (°C)</text>
<text x="422.7" y="343.9" font-size="6.2">Time (h)</text>
</g>
</g>
<g>
<path d="M47.1,518L47.1,496L48.4,498.2L50,495L51.1,491.7L52.2,496L53.8,499.3L54.9,495L56.2,492.8L57.6,496L59.2,498.2L60.9,500.4L62.5,499.3L64.1,502.6L65.2,500.4L66.9,498.2L68.5,496L69.6,490.6L70.4,488.4L71.2,492.8L72.3,498.2L73.9,500.4L75.6,503.7L77.2,501.5L78.8,499.3L80.5,495L81.6,491.7L82.7,489.5L83.7,492.8L84.8,496L86.5,495L87.6,489.5L88.6,486.2L89.7,484.1L90.8,489.5L91.9,492.8L93,489.5L94.1,487.3L95.2,491.7L96.3,493.9L97.4,489.5L98.4,485.2L99.5,481.9L100.4,476.4L101.2,465.2L102.7,454.5L104.2,442.3L105.3,431.6L106.2,443.8L107.3,451.4L108.8,443.8L110.3,437.7L111.8,437L113.4,438.5L114.9,434.7L116.4,439.2L117.9,435.4L119.5,434.7L121,437L122.5,433.9L124,432.4L125.6,436.2L127.1,431.6L128,430.9L129.3,433.1L130.9,431.6L131.9,430.1L133.1,436.2L134.7,443.8L135.9,439.2L137,437L138.5,439.2L140,438.5L141.1,440.8L142.3,439.2L143.5,448.4L145,454.5L146.6,459.1L148.1,456L149.2,460.6L150.2,468.2L151.4,469.7L153,464.4L154.5,460.6L155.7,465.2L156.8,469.7L158.3,468.2L159.8,469.7L160.9,466.7L162.1,454.5L163.6,453L165.2,446.9L166.7,442.3L168.2,437.7L169.7,434.7L171.3,436.2L172.5,440.8L173.5,439.2L175.1,436.2L176.1,430.9L177.4,436.2L178.6,439.2L180.1,443.8L181.6,446.9L183.1,449.9L184.7,448.4L186.2,453L187.3,450.7L188.3,457.5L189.5,453L190.5,446.9L191.4,452.2L192.6,456L194.1,459.1L195.3,463.6L196.6,469.7L197.8,474.3L199,468.2L200.2,465.2L201.4,463.6L202.5,460.6L203.6,458.3L204.8,459.1L206,462.1L207.2,465.2L207.2,518Z" fill="#82c846"/>
<path d="M47.1,518L47.1,506.9L48.9,509.1L51.6,510.2L54.9,510.7L60.3,511.3L65.8,510.7L71.2,511.3L76.7,511.8L82.1,511.3L87.6,510.7L91.9,509.1L95.2,506.9L98.4,505.8L100.4,504.8L101.2,497.2L102.2,491.1L103.5,485L104.7,481.9L105.7,477.4L106.8,483.5L108,491.1L109.5,489.5L111.1,486.5L112.6,488L114.1,485L115.3,480.4L116.9,481.9L118.4,484.2L119.9,486.5L121.4,485L123,483.5L124.8,481.9L126.3,480.4L128,481.2L128.6,485L130.1,481.9L131.6,480.4L133.1,483.5L134.7,488L136.2,485L137.7,481.9L139.2,485L140.8,488L142.3,491.1L143.8,489.5L145.3,492.6L146.9,495.6L148.4,500.2L149.9,497.2L151.4,492.6L152.7,500.2L153.7,503.3L155.2,497.2L156.8,488L157.8,494.1L159.1,489.5L160.3,480.4L161.3,488L162.4,498.7L163.9,491.1L165.5,485L167,480.4L168.5,477.4L170,475.8L171.6,481.9L173.1,486.5L174.6,483.5L176.1,485L177.7,486.5L179.2,489.5L180.7,492.6L182.2,495.6L183.8,498.7L185.3,500.2L186.8,498.7L188.3,495.6L189.9,491.1L191.1,494.1L192.6,498.7L194.1,497.2L195.3,500.2L196.6,503.3L197.9,506.3L199.5,500.2L201,495.6L202.5,492.6L203.6,488L204.8,495.6L206.3,500.2L207.2,501.7L207.2,518Z" fill="#5a9ad6"/>
<path d="M47.1,518L47.1,459.1L48.3,459.1L48.9,443.8L51.6,443.8L52.4,429.3L55.4,429.3L56.2,443.8L57.4,443.8L58.2,429.3L63.8,429.3L65,443.8L66.6,443.8L67.3,429.3L68.4,429.3L69.2,443.8L70.7,443.8L71.4,429.3L73.3,429.3L74.2,443.8L75.2,439.2L76.3,429.3L82.1,429.3L83,443.8L83.9,459.1L84.9,443.8L85.5,429.3L87,429.3L87.9,459.1L89.4,459.1L90.2,443.8L90.8,429.3L91.7,443.8L92.8,459.1L95.8,459.1L96.6,443.8L98.1,443.8L98.9,459.1L100.1,460.6L100.7,474.3L101.6,491.1L102.7,518L115.3,518L116.3,503.3L117.8,503.3L118.7,518L128,518L146.3,518L147.2,504L149.2,503.3L150.2,492.6L151.4,503.3L153.7,502.5L155.2,501.7L156.3,488L157.2,502.5L159.4,501.7L160.3,481.9L161.5,502.5L163.3,503.3L164.9,518L182.5,518L183.5,503.3L186.8,503.3L188,518L195,518L196,506.3L197.2,507.1L198.1,518L199,518L200.2,505.6L202,504.8L203.6,488L204.8,504.8L206.3,506.3L207.2,507.8L207.2,518Z" fill="#fdd466" fill-opacity="0.78"/>
<path d="M47.1,458.3L48.3,456L49.8,454.5L51.3,456L52.8,458.3L54.4,456.8L55.9,456L57.4,456.8L58.9,461.3L60.5,455.2L62,453L63.5,451.4L65,452.2L66.6,453.7L68.1,456.8L69.6,457.2L71.1,456.8L72.7,458.3L74.2,459.8L75.7,462.1L77.2,463.6L78.8,464.4L80.3,463.3L81.8,464.4L83.3,465.9L84.9,465.2L86.4,465.9L87.9,466.7L89.4,468.2L90.5,465.2L91.6,464.4L92.8,465.9L94,464.4L95.2,464.9L96.4,467.4L97.7,467.9L98.9,469.7L100.1,476.6L101.2,479.6L102.2,475.8L103.5,469.7L104.7,468.2L105.9,471.3L107.1,472.8L108.3,473.5L109.5,474.3L111.1,475.1L112.6,473.5L114.1,473.1L115.3,475.8L116.6,478.1L117.8,481.2L119,483.5L120.2,485L121.4,484.2L122.7,481.9L123.9,479.6L125.1,478.1L126.3,477.4L128,478.1L128.6,476.6L130.1,475.8L131.6,476.6L133.1,475.8L134.7,477.4L136.2,478.1L137.7,479.6L139.2,482.7L140.8,484.2L142.3,484.2L143.8,481.2L145.3,476.6L146.9,474.3L148.4,472.8L149.9,471.3L151.4,469L153,471.3L154.5,469.7L156,467.4L157.5,467.4L159.1,468.2L160.6,469L162.1,466.7L163.3,465.2L164.4,467.4L165.9,470.5L167.4,469L168.5,471.3L169.7,473.5L171.3,475.8L172.8,478.1L174.3,479.6L175.8,479.2L177.4,476.6L178.9,473.5L180.4,471.3L181.9,469L183.5,466.7L185,465.2L186.5,463.6L188,462.1L189.2,464.4L190.5,468.2L191.8,469.7L193.4,469L194.9,467.4L196.4,464.4L197.9,462.9L199.5,462.1L201,461.8L202.5,461.3L204,462.1L205.6,463.3L207.2,464.4" fill="none" stroke="#e21a1a" stroke-width="1.4" stroke-linejoin="round" stroke-linecap="round"/>
<path d="M46.7,429.3V518H207.6V429.3" stroke="#111" stroke-width="0.95" fill="none"/>
<path d="M26.8,429.3V518M229.3,429.3V518" stroke="#111" stroke-width="0.95" fill="none"/>
<path d="M46.7,429.3h-2.4M207.6,429.3h2.4M229.3,429.3h2.4M26.8,429.3h-2.4M46.7,438.2h-1.5M207.6,438.2h1.5M229.3,438.2h1.5M26.8,438.2h-1.5M46.7,447h-2.4M207.6,447h2.4M229.3,447h2.4M26.8,447h-1.5M46.7,455.9h-1.5M207.6,455.9h1.5M229.3,455.9h1.5M26.8,455.9h-1.5M46.7,464.8h-2.4M207.6,464.8h2.4M229.3,464.8h2.4M26.8,464.8h-1.5M46.7,473.6h-1.5M207.6,473.6h1.5M229.3,473.6h1.5M26.8,473.6h-2.4M46.7,482.5h-2.4M207.6,482.5h2.4M229.3,482.5h2.4M26.8,482.5h-1.5M46.7,491.4h-1.5M207.6,491.4h1.5M229.3,491.4h1.5M26.8,491.4h-1.5M46.7,500.3h-2.4M207.6,500.3h2.4M229.3,500.3h2.4M26.8,500.3h-1.5M46.7,509.1h-1.5M207.6,509.1h1.5M229.3,509.1h1.5M26.8,509.1h-1.5M46.7,518h-2.4M207.6,518h2.4M229.3,518h2.4M26.8,518h-2.4M46.7,518v1.6M60.2,518v1.6M73.7,518v1.6M87.1,518v1.6M100.6,518v1.6M114.1,518v1.6M127.6,518v1.6M141.1,518v1.6M154.6,518v1.6M168,518v1.6M181.5,518v1.6M195,518v1.6" stroke="#111" stroke-width="0.7" fill="none"/>
<g font-size="6.2" fill="#111" stroke="#111" stroke-width="0.15"><text x="43.7" y="431.2" text-anchor="end">100</text><text x="43.7" y="448.9" text-anchor="end">80</text><text x="43.7" y="466.7" text-anchor="end">60</text><text x="43.7" y="484.4" text-anchor="end">40</text><text x="43.7" y="502.2" text-anchor="end">20</text><text x="43.7" y="519.9" text-anchor="end">0</text><text x="211.5" y="431.3">1</text><text x="211.5" y="449">0.8</text><text x="211.5" y="466.8">0.6</text><text x="211.5" y="484.5">0.4</text><text x="211.5" y="502.3">0.2</text><text x="211.5" y="520">0</text><text x="233.2" y="431.3">37</text><text x="233.2" y="449">35</text><text x="233.2" y="466.8">33</text><text x="233.2" y="484.5">31</text><text x="233.2" y="502.3">29</text><text x="233.2" y="520">27</text><text x="23.4" y="431.2" text-anchor="end">90</text><text x="23.4" y="475.5" text-anchor="end">45</text><text x="23.4" y="519.9" text-anchor="end">0</text><text x="46.7" y="524.6" text-anchor="middle">0</text><text x="60.2" y="524.6" text-anchor="middle">2</text><text x="73.7" y="524.6" text-anchor="middle">4</text><text x="87.1" y="524.6" text-anchor="middle">6</text><text x="100.6" y="524.6" text-anchor="middle">8</text><text x="114.1" y="524.6" text-anchor="middle">10</text><text x="127.6" y="524.6" text-anchor="middle">12</text><text x="141.1" y="524.6" text-anchor="middle">14</text><text x="154.6" y="524.6" text-anchor="middle">16</text><text x="168" y="524.6" text-anchor="middle">18</text><text x="181.5" y="524.6" text-anchor="middle">20</text><text x="195" y="524.6" text-anchor="middle">22</text></g>
<g font-size="6.6" fill="#111" stroke="#111" stroke-width="0.18" text-anchor="middle">
<text transform="translate(15.2,465.1) rotate(-90)">Position (°)</text>
<text transform="translate(36.2,468.6) rotate(-90)">Activity (°/min)</text>
<text transform="translate(219.7,474.2) rotate(90)">Sleep (AU)</text>
<text transform="translate(240.2,474.1) rotate(90)">Temperature (°C)</text>
<text x="122.2" y="532.8" font-size="6.2">Time (h)</text>
</g>
</g>
<g>
<path d="M349.8,518L349.8,489.5L350.8,496L352.4,499.3L354.1,502.6L355.7,505.8L356.8,499.3L357.9,489.5L359,487.3L360.1,492.8L361.7,498.2L363.3,502.6L365,505.8L366.6,508L368.2,509.1L369.9,504.8L371.2,501.5L372.6,505.8L374.2,508L375.9,506.9L377.5,504.8L379.1,506.9L380.8,508L382.4,504.8L384,506.9L385.7,509.1L387.3,508L388.9,506.9L390.6,503.7L392.2,498.2L393.3,496L394.4,502.6L395.5,486.2L396.5,484.1L397.6,492.8L398.7,498.2L399.8,496L400.9,490.6L402,486.2L403.1,488.4L404.2,491.7L405.3,489.5L406.3,486.2L407,485.2L408,489.5L409.5,481.9L410.7,474.3L411.8,454.5L412.9,445.3L414.1,451.4L415.6,449.9L417.1,442.3L418.6,438.5L419.9,440.8L421.4,443.8L422.9,439.2L424.4,437L425.5,443.8L427,449.9L428.6,453L430.1,457.5L431,459.1L431.8,440L433,442.3L434.1,454.5L435.3,451.4L436.4,445.3L437.5,442.3L438.7,440L439.9,439.2L441,443.8L442,448.4L443.2,456L444.5,449.9L445.5,440.8L446.3,451.4L447.5,462.1L448.6,468.2L449.6,474.3L450.9,477.4L452.1,481.9L453.2,477.4L454.2,474.3L455.4,480.4L456.7,485L457.7,481.9L459.2,475.8L460.8,472.8L462.3,471.3L463.8,475.8L465.3,480.4L466.9,472.8L468.4,466.7L469.9,463.6L471.4,459.1L472.5,448.4L473.4,437.7L474.5,443.8L475.6,442.3L476.8,440.8L478,446.9L479.1,449.9L480.1,448.4L481.4,456L482.6,462.1L483.6,459.1L484.7,451.4L485.9,445.3L487.1,446.9L488.2,453L489.3,454.5L490.5,449.9L491.7,457.5L492.8,460.6L493.9,466.7L495.1,472.8L496.3,477.4L497.5,480.4L498.7,485L500,488L501.2,486.5L502.4,491.1L503.6,495.6L504.8,500.2L506,498.7L507.3,497.2L508.5,496.4L509.6,498.7L510.1,500.2L510.1,518Z" fill="#82c846"/>
<path d="M349.8,518L349.8,506.9L351.4,509.1L353.5,506.9L355.7,510.2L357.9,506.9L360.1,509.1L362.2,512.4L366.6,513.5L371,512.9L375.3,513.5L379.7,512.9L384,513.5L388.4,512.9L392.7,512.4L395.5,508L397.1,506.9L399.3,510.2L401.4,508L403.6,509.1L405.8,506.9L407,505.8L408.7,508.6L410.7,503.3L411.8,488L412.9,485L414.1,489.5L415.3,492.6L416.4,488L417.4,485L418.6,483.5L419.9,484.2L421.4,482.7L422.9,481.9L424.4,481.2L426,482.7L427.5,485L429,486.5L431,487.3L432.3,485L433.3,486.5L434.9,488L436.4,485L437.9,483.5L439.4,484.2L441,485L442.5,489.5L444,492.6L445.5,491.1L447.1,494.1L448.6,497.2L450.1,500.2L451.2,503.3L452.4,497.2L453.9,495.6L455.4,492.6L457,491.1L458.5,494.1L460,497.2L461.5,498.7L463.1,495.6L464.6,491.1L466.1,492.6L467.6,491.1L469.2,489.5L470.7,485L472.2,481.9L473.4,480.4L474.5,482.7L476,481.9L477.5,483.5L479.1,485L480.6,488L482.1,491.1L483.6,491.8L485.2,489.5L486.7,488.8L488.2,491.1L489.7,492.6L491.3,495.6L492.8,500.2L494.3,504.8L495.8,509.4L497.4,511.7L498.9,509.4L500.4,512.4L501.9,510.9L503.5,513.9L505,515.5L506.5,516.2L508,517L510.1,517.3L510.1,518Z" fill="#5a9ad6"/>
<path d="M349.8,518L349.8,474.3L350.8,474.3L351.6,459.1L355.4,459.1L355.8,443.8L356.9,443.8L357.7,459.1L359.2,459.1L360,443.8L361.9,443.8L362.5,430.4L363.8,430.4L364.4,443.8L366.5,443.8L367.1,430.4L369.9,430.4L370.6,443.8L378.2,443.8L379,430.4L382.1,430.4L382.5,443.8L384.3,443.8L385.1,430.4L391.5,430.4L392.1,443.8L393,443.8L393.6,430.4L394.6,430.4L395.2,459.1L396.1,459.1L396.7,474.3L397.6,459.1L398.8,459.1L399.7,474.3L400.7,459.1L401.9,459.1L402.6,474.3L403.7,474.3L404.3,459.1L405.7,459.1L406.5,474.3L408.7,474.3L409.8,485L411,489.5L412.2,518L431,518L447.8,518L448.7,504.8L452.1,504L453.2,490.3L460.3,489.5L460.9,503.3L461.5,512.4L462.3,503.3L463.4,497.2L464.3,490.3L466.9,489.5L467.9,509.4L468.5,518L497.8,518L498.6,506.3L500,506.3L500.9,518L507.3,518L508.3,498.7L509.2,497.2L510.1,497.2L510.1,518Z" fill="#fdd466" fill-opacity="0.78"/>
<path d="M349.8,477.4L350.8,472.8L351.9,467.4L353.1,462.9L354.6,460.6L356.1,458.3L357.4,454.5L358.6,455.2L359.8,451.4L361,447.6L362.2,449.2L363.5,452.2L365,451.4L366.5,449.9L368,446.1L369.6,444.6L371.1,441.5L372.6,443.8L374.1,446.9L375.7,449.9L377.2,452.2L378.4,454.5L379.6,451.4L380.8,453.7L382.1,456.8L383.3,460.6L384.5,462.9L386,463.3L387.5,462.1L389.1,459.1L390.6,456.8L392.1,455.2L393.6,453L394.9,451.4L396.1,452.2L397.3,449.9L398.5,450.7L399.7,453L401,451.4L402.2,449.9L403.4,451.4L404.6,451.1L405.8,451.4L407.1,451.7L408.3,451.4L409.5,456.8L410.7,456L411.9,461.3L413.2,468.2L414.4,470.5L415.6,471.3L416.8,472.5L418,472.8L419.3,473.5L420.5,478.1L421.7,478.6L423.2,478.9L424.7,476.6L426.3,472.8L427.8,469.7L429.3,468.2L431,466.7L432.3,467.4L433.5,469.7L434.7,472.8L435.9,475.1L437.1,476.6L438.7,475.1L440.2,474.3L441.7,473.5L443.2,472.8L444.5,475.1L445.7,471.3L446.9,468.2L448.1,466.7L449.3,465.2L450.9,465.5L452.4,464.9L453.9,465.2L455.1,462.9L456.2,459.1L457.3,456L458.2,456.8L459.2,464.4L460.3,469L461.5,470.5L463.1,469.7L464.3,465.2L465.5,461.3L466.7,459.8L467.9,461.3L469.2,462.1L470.4,461.3L471.6,460.6L472.8,460.6L473.7,468.2L475,471.3L476.2,469L477.4,469.7L478.6,468.2L479.8,469L481.4,468.2L482.9,469L484.1,471.3L485.3,474.3L486.7,475.1L488.2,474.3L489.7,473.5L491.3,472.8L492.8,472L494.3,469.7L495.8,468.5L496.9,469.7L497.8,475.8L498.9,478.9L500.4,479.6L501.9,481.2L503.5,483.5L505,484.2L506.5,483.5L508,481.2L509.6,479.6L510.1,479.6" fill="none" stroke="#e21a1a" stroke-width="1.4" stroke-linejoin="round" stroke-linecap="round"/>
<path d="M349.4,430.6V518H510.5V430.6" stroke="#111" stroke-width="0.95" fill="none"/>
<path d="M330,430.6V518M531.9,430.6V518" stroke="#111" stroke-width="0.95" fill="none"/>
<path d="M349.4,430.6h-2.4M510.5,430.6h2.4M531.9,430.6h2.4M330,430.6h-2.4M349.4,439.3h-1.5M510.5,439.3h1.5M531.9,439.3h1.5M330,439.3h-1.5M349.4,448.1h-2.4M510.5,448.1h2.4M531.9,448.1h2.4M330,448.1h-1.5M349.4,456.8h-1.5M510.5,456.8h1.5M531.9,456.8h1.5M330,456.8h-1.5M349.4,465.6h-2.4M510.5,465.6h2.4M531.9,465.6h2.4M330,465.6h-1.5M349.4,474.3h-1.5M510.5,474.3h1.5M531.9,474.3h1.5M330,474.3h-2.4M349.4,483h-2.4M510.5,483h2.4M531.9,483h2.4M330,483h-1.5M349.4,491.8h-1.5M510.5,491.8h1.5M531.9,491.8h1.5M330,491.8h-1.5M349.4,500.5h-2.4M510.5,500.5h2.4M531.9,500.5h2.4M330,500.5h-1.5M349.4,509.3h-1.5M510.5,509.3h1.5M531.9,509.3h1.5M330,509.3h-1.5M349.4,518h-2.4M510.5,518h2.4M531.9,518h2.4M330,518h-2.4M349.4,518v1.6M362.9,518v1.6M376.4,518v1.6M389.9,518v1.6M403.4,518v1.6M416.9,518v1.6M430.4,518v1.6M443.9,518v1.6M457.4,518v1.6M470.9,518v1.6M484.4,518v1.6M497.9,518v1.6" stroke="#111" stroke-width="0.7" fill="none"/>
<g font-size="6.2" fill="#111" stroke="#111" stroke-width="0.15"><text x="346.4" y="432.5" text-anchor="end">100</text><text x="346.4" y="450" text-anchor="end">80</text><text x="346.4" y="467.5" text-anchor="end">60</text><text x="346.4" y="484.9" text-anchor="end">40</text><text x="346.4" y="502.4" text-anchor="end">20</text><text x="346.4" y="519.9" text-anchor="end">0</text><text x="514.4" y="432.6">1</text><text x="514.4" y="450.1">0.8</text><text x="514.4" y="467.6">0.6</text><text x="514.4" y="485">0.4</text><text x="514.4" y="502.5">0.2</text><text x="514.4" y="520">0</text><text x="535.8" y="432.6">37</text><text x="535.8" y="450.1">35</text><text x="535.8" y="467.6">33</text><text x="535.8" y="485">31</text><text x="535.8" y="502.5">29</text><text x="535.8" y="520">27</text><text x="326.6" y="432.5" text-anchor="end">90</text><text x="326.6" y="476.2" text-anchor="end">45</text><text x="326.6" y="519.9" text-anchor="end">0</text><text x="349.4" y="524.6" text-anchor="middle">0</text><text x="362.9" y="524.6" text-anchor="middle">2</text><text x="376.4" y="524.6" text-anchor="middle">4</text><text x="389.9" y="524.6" text-anchor="middle">6</text><text x="403.4" y="524.6" text-anchor="middle">8</text><text x="416.9" y="524.6" text-anchor="middle">10</text><text x="430.4" y="524.6" text-anchor="middle">12</text><text x="443.9" y="524.6" text-anchor="middle">14</text><text x="457.4" y="524.6" text-anchor="middle">16</text><text x="470.9" y="524.6" text-anchor="middle">18</text><text x="484.4" y="524.6" text-anchor="middle">20</text><text x="497.9" y="524.6" text-anchor="middle">22</text></g>
<g font-size="6.6" fill="#111" stroke="#111" stroke-width="0.18" text-anchor="middle">
<text transform="translate(318.4,465.8) rotate(-90)">Position (°)</text>
<text transform="translate(338.9,469.3) rotate(-90)">Activity (°/min)</text>
<text transform="translate(523.1,474.9) rotate(90)">Sleep (AU)</text>
<text transform="translate(542.8,474.8) rotate(90)">Temperature (°C)</text>
<text x="424.9" y="532.8" font-size="6.2">Time (h)</text>
</g>
</g>
<g>
<path d="M44.9,668.4L44.9,637.3L46.4,639.5L48,642.8L49.6,641.7L51.3,645L52.9,646L54.2,639.5L55.3,633L56.4,638.4L57.8,643.9L59.4,642.8L61.1,647.1L62.7,645L63.8,642.8L65.4,640.6L66.8,638.4L68.1,639.5L69.8,641.7L71.2,637.3L72.3,633L73.4,640.6L74.7,646L76.3,645L77.9,648.2L79.6,647.1L81.2,649.3L82.8,651.5L84.5,649.3L85.6,651.5L87.2,653.7L88.8,654.8L90.5,652.6L92.1,653.7L93.7,655.8L94.6,653.7L95.4,636L96.1,596.3L97.6,597.9L99.2,594.8L100.2,591.8L101.5,596.3L103,595.6L104.5,597.9L106,596.3L107.5,590.2L108.8,581.1L110,584.1L111.4,591.8L112.4,587.2L113.6,580.8L115.2,584.1L116.7,594.8L118.2,600.9L119.7,597.9L121.3,594.8L122.8,600.9L124.3,605.5L126,610.1L126.6,617.7L128.1,611.6L129.6,605.5L131.1,604L132.7,600.9L133.6,596.3L134.5,605.5L135.7,597.9L137.2,591.8L138.5,590.2L139.7,594.8L140.9,602.4L142.1,607L143.3,610.1L144.6,605.5L145.6,600.9L146.7,608.5L147.9,614.6L149.1,620.7L150.4,626.8L151.7,620.7L152.8,610.1L153.7,605.5L154.6,617.7L155.5,626.8L156.8,632.9L158,631.4L159.2,628.4L160.4,620.7L161.6,614.6L162.9,608.5L164.1,607.8L165.3,610.1L166.5,614.6L167.4,610.1L168.5,605.5L169.6,611.6L170.8,607L172,597.9L173.1,599.4L174.1,610.1L175.4,616.2L176.6,620.7L177.8,619.2L179,616.2L180.2,613.1L181.5,611.6L182.7,605.5L183.7,604L184.8,611.6L186,604L187.2,605.5L188.5,614.6L189.7,625.3L190.9,631.4L192.1,629.9L193.3,626.8L194.6,622.3L195.8,625.3L197,629.9L198.2,626.8L199.4,619.2L200.7,611.6L201.6,607.8L202.8,613.1L204,619.2L205.2,623.8L205.2,668.4Z" fill="#82c846"/>
<path d="M44.9,668.4L44.9,664.6L52.9,665.1L63.8,664.6L74.7,665.1L85.6,664.6L93.2,663.5L94.6,658L95.7,643.6L96.6,636L98.1,634.5L99.6,632.9L101.5,633.7L103,636L104.5,637.5L106,636L107.5,631.4L109.1,625.3L110.3,628.4L111.5,629.9L112.9,623.8L114.4,626.8L115.9,632.9L117.5,636L119,634.5L120.5,632.9L122,635.2L123.6,639L125.1,642.1L126,643.6L126.6,640.5L128.1,642.1L129.6,640.5L131.1,639L132.7,637.5L134.2,634.5L135.4,631.4L136.6,634.5L138,637.5L139.5,639L141.1,640.5L142.6,642.1L144.1,643.6L145.6,646.6L147.2,649.7L148.7,651.2L150.2,649.7L151.7,646.6L152.9,643.6L153.7,654.3L156.3,655L158.6,654.3L160.4,654.3L161.3,642.1L162.4,639L163.9,636L165.4,637.5L167,639L168.5,640.5L169.6,636L170.8,635.2L172,636L173.2,642.1L174.4,648.2L175.7,651.2L176.9,652.7L178.4,649.7L179.9,646.6L181.5,642.1L182.7,639L183.9,640.5L185.1,642.1L186.3,639L187.5,637.5L188.8,640.5L190,646.6L191.2,651.2L192.4,652.7L193.6,649.7L194.9,648.2L196.1,651.2L197.3,648.2L198.5,643.6L199.7,639L201,636L202.2,634.5L203.4,637.5L204.6,640.5L205.2,642.1L205.2,668.4Z" fill="#5a9ad6"/>
<path d="M44.9,668.4L44.9,580.8L45.4,580.8L46,594.8L46.9,580.8L47.8,594.8L48.9,580.8L49.9,580.8L50.5,594.8L51.8,594.8L52.4,580.8L53.6,580.8L54.2,594.8L55.4,594.8L56,580.8L57.2,580.8L57.9,594.8L64.1,594.8L64.6,610.1L65.2,594.8L69.1,594.8L69.7,580.8L71,580.8L71.6,594.8L73.2,594.8L73.7,610.1L74.3,594.8L75.8,594.8L76.5,580.8L83.5,580.8L84.1,594.8L87.4,594.8L88,580.8L90,580.8L90.8,594.8L93.1,594.8L93.8,610.1L95.4,625.3L96.3,654.3L97.2,660.4L98.1,668.4L126,668.4L129.9,668.4L130.7,655L133,655L133.9,668.4L142.1,668.4L143,655L145.2,655L146.1,668.4L147.2,668.4L147.9,655L150.7,654.3L151.7,668.4L152.9,668.4L154,640.5L154.8,639.8L160.1,639.8L161,654.3L161.9,668.4L167.1,668.4L168,655L170.5,655L171.4,668.4L172.6,668.4L173.5,655L175,655L176,668.4L194,668.4L194.9,655L196.4,654.3L197,643.6L197.8,654.3L198.5,668.4L203.7,668.4L204.3,625.3L205.2,625.3L205.2,668.4Z" fill="#fdd466" fill-opacity="0.78"/>
<path d="M44.9,604.7L45.8,601.7L46.9,601.7L48.1,607L49.3,610.1L50.5,607.8L51.8,604L53,602.4L54.2,602.7L55.4,604.7L56.6,606.2L57.9,605.5L59.1,607.8L60.3,606.2L61.5,607L62.7,609.3L64,611.6L65.2,609.3L66.4,606.2L67.6,604L68.8,603.2L70,604.7L71.3,607.8L72.5,609.3L73.7,610.1L74.9,612.3L76.1,614.3L77.4,613.1L78.6,609.3L79.8,605.5L81,603.2L82.2,601.7L83.2,603.2L84.4,609.3L85.6,607.8L86.8,607L88,604.7L89.3,602.4L90.5,601.2L91.7,603.2L92.9,606.2L94.1,610.8L95.4,619.2L96.3,629.9L97.2,639L98.1,642.8L99.3,642.1L100.5,646.6L101.8,649.7L103,652.7L104.2,646.6L105.1,642.8L106,646.6L107.2,650.5L108.5,652.7L109.7,653.5L110.9,654.3L112.1,650.5L113,648.2L114.3,651.2L115.5,649.7L116.7,646.6L117.9,643.6L119.1,642.1L120.4,642.1L121.6,643.6L122.8,646.6L124,648.2L126,649.7L126.3,645.1L127.5,640.5L128.7,641.3L129.9,642.1L131.1,640.5L132.4,641.3L133.6,639L134.8,632.9L135.7,631.4L136.9,635.2L138.2,637.5L139.4,639L140.6,640.5L141.8,642.1L143,641.3L144.3,642.8L145.5,647.4L146.7,646.6L147.9,640.5L149.1,634.5L150.4,626.8L151.6,621.5L152.8,619.2L154,614.6L155.2,611.6L156.5,610.8L157.7,611.6L158.9,614.6L160.1,620L161.3,620.7L162.5,625.3L163.8,629.9L165,636L166.2,635.2L167.4,628.4L168.6,626.8L169.9,622.3L170.8,620L172,624.5L173.2,625.3L174.4,623.8L175.7,623L176.9,621.5L178.1,620.7L179.3,622.3L180.5,623.8L181.8,623L183,622.3L184.2,623.8L185.4,626.8L186.6,629.1L187.9,628.4L189.1,623.8L190.3,620L191.5,618.4L192.7,617.7L194,619.2L195.2,618.4L196.4,612.3L197.6,611.6L198.8,616.9L200,622.3L201.3,625.3L202.5,626.8L203.4,619.2L204.3,611.6L205.2,609.3" fill="none" stroke="#e21a1a" stroke-width="1.4" stroke-linejoin="round" stroke-linecap="round"/>
<path d="M44.5,580.8V668.4H205.6V580.8" stroke="#111" stroke-width="0.95" fill="none"/>
<path d="M24.6,580.8V668.4M226.8,580.8V668.4" stroke="#111" stroke-width="0.95" fill="none"/>
<path d="M44.5,580.8h-2.4M205.6,580.8h2.4M226.8,580.8h2.4M24.6,580.8h-2.4M44.5,589.6h-1.5M205.6,589.6h1.5M226.8,589.6h1.5M24.6,589.6h-1.5M44.5,598.3h-2.4M205.6,598.3h2.4M226.8,598.3h2.4M24.6,598.3h-1.5M44.5,607.1h-1.5M205.6,607.1h1.5M226.8,607.1h1.5M24.6,607.1h-1.5M44.5,615.8h-2.4M205.6,615.8h2.4M226.8,615.8h2.4M24.6,615.8h-1.5M44.5,624.6h-1.5M205.6,624.6h1.5M226.8,624.6h1.5M24.6,624.6h-2.4M44.5,633.4h-2.4M205.6,633.4h2.4M226.8,633.4h2.4M24.6,633.4h-1.5M44.5,642.1h-1.5M205.6,642.1h1.5M226.8,642.1h1.5M24.6,642.1h-1.5M44.5,650.9h-2.4M205.6,650.9h2.4M226.8,650.9h2.4M24.6,650.9h-1.5M44.5,659.6h-1.5M205.6,659.6h1.5M226.8,659.6h1.5M24.6,659.6h-1.5M44.5,668.4h-2.4M205.6,668.4h2.4M226.8,668.4h2.4M24.6,668.4h-2.4M44.5,668.4v1.6M58,668.4v1.6M71.5,668.4v1.6M85,668.4v1.6M98.5,668.4v1.6M112,668.4v1.6M125.5,668.4v1.6M139,668.4v1.6M152.5,668.4v1.6M166,668.4v1.6M179.5,668.4v1.6M193,668.4v1.6" stroke="#111" stroke-width="0.7" fill="none"/>
<g font-size="6.2" fill="#111" stroke="#111" stroke-width="0.15"><text x="41.5" y="582.7" text-anchor="end">100</text><text x="41.5" y="600.2" text-anchor="end">80</text><text x="41.5" y="617.7" text-anchor="end">60</text><text x="41.5" y="635.3" text-anchor="end">40</text><text x="41.5" y="652.8" text-anchor="end">20</text><text x="41.5" y="670.3" text-anchor="end">0</text><text x="209.5" y="582.8">1</text><text x="209.5" y="600.3">0.8</text><text x="209.5" y="617.8">0.6</text><text x="209.5" y="635.4">0.4</text><text x="209.5" y="652.9">0.2</text><text x="209.5" y="670.4">0</text><text x="230.7" y="582.8">37</text><text x="230.7" y="600.3">35</text><text x="230.7" y="617.8">33</text><text x="230.7" y="635.4">31</text><text x="230.7" y="652.9">29</text><text x="230.7" y="670.4">27</text><text x="21.2" y="582.7" text-anchor="end">90</text><text x="21.2" y="626.5" text-anchor="end">45</text><text x="21.2" y="670.3" text-anchor="end">0</text><text x="44.5" y="675" text-anchor="middle">0</text><text x="58" y="675" text-anchor="middle">2</text><text x="71.5" y="675" text-anchor="middle">4</text><text x="85" y="675" text-anchor="middle">6</text><text x="98.5" y="675" text-anchor="middle">8</text><text x="112" y="675" text-anchor="middle">10</text><text x="125.5" y="675" text-anchor="middle">12</text><text x="139" y="675" text-anchor="middle">14</text><text x="152.5" y="675" text-anchor="middle">16</text><text x="166" y="675" text-anchor="middle">18</text><text x="179.5" y="675" text-anchor="middle">20</text><text x="193" y="675" text-anchor="middle">22</text></g>
<g font-size="6.6" fill="#111" stroke="#111" stroke-width="0.18" text-anchor="middle">
<text transform="translate(13,616.1) rotate(-90)">Position (°)</text>
<text transform="translate(34,619.6) rotate(-90)">Activity (°/min)</text>
<text transform="translate(217.7,625.2) rotate(90)">Sleep (AU)</text>
<text transform="translate(237.7,625.1) rotate(90)">Temperature (°C)</text>
<text x="120" y="683.2" font-size="6.2">Time (h)</text>
</g>
</g>
<g>
<path d="M349,667.8L349,664.6L350.4,662.4L352,659.1L353.6,653.7L355.3,646L356.3,639.5L357.1,635.2L358,642.8L359.1,648.2L360.7,649.3L362.3,647.1L364,646L365.4,647.1L366.7,640.6L367.8,635.2L368.5,631.9L369.4,639.5L370.5,648.2L372.1,649.3L373.8,650.4L375.4,651.5L377,649.3L378.7,651.5L380.3,650.4L381.9,648.2L383,645L384.1,642.8L385.4,643.9L386.8,648.2L387.9,652.6L389,656.9L390.6,655.8L392.3,652.6L393.9,648.2L395,645L396.1,648.2L397.2,642.8L398.3,637.3L399.4,641.7L400.4,646L401.5,645L402.6,642.8L403.7,640.6L404.8,637.3L406,633L407,613.1L408.2,605.5L409.4,597.9L410.6,581.1L411.9,590.2L413.1,596.3L414.6,600.9L416.1,599.4L417.6,601.7L419.2,600.9L420.7,597.9L422.2,594.8L423.4,590.2L424.7,594.8L426,596.3L427.6,597.9L429.1,596.3L430,596.3L430.9,584.1L432.1,587.2L433.3,591.8L434.4,588.7L435.5,591.8L436.7,584.1L437.6,581.1L438.5,590.2L439.7,594.8L440.9,591.8L442,590.2L443.1,594.8L444.3,600.9L445.5,608.5L446.6,620.7L447.6,613.1L448.6,600.9L449.6,591.8L450.7,594.8L451.6,602.4L452.7,610.1L453.7,613.1L455,616.2L456.2,617.7L457.4,613.1L458.3,605.5L459.2,600.9L460.3,608.5L461.4,611.6L462.6,616.2L463.8,613.1L464.9,602.4L465.9,593.3L467.2,594.8L468.4,596.3L469.6,594.8L470.8,591.8L472,585.7L473.3,581.9L474.5,585.7L475.5,583.4L476.6,586.4L477.8,590.2L479,584.1L480.3,582.6L481.5,581.1L482.7,588.7L483.9,591.8L485.1,594.8L486.4,602.4L487.3,607L488.2,590.2L489.3,585.7L490.3,581.1L491.2,590.2L492.5,596.3L493.7,597.9L494.9,594.8L495.8,605.5L496.7,625.3L497.6,642.1L498.6,645.1L499.8,660.4L502.2,661.9L504,660.4L504.7,620.7L505.6,617.7L506.3,636L506.9,640.5L506.9,667.8Z" fill="#82c846"/>
<path d="M349,667.8L349,666.7L352.5,664.6L356.9,663.5L361.2,661.3L365.6,662.4L370,663.5L374.3,664L378.7,664.6L383,663.5L387.4,664L391.7,663.5L396.1,662.9L400.4,662.4L406,661.3L408.5,657.3L410,648.2L410.9,631.4L412.2,636L413.4,640.5L414.6,639L415.8,636L417,639L418.3,643.6L419.5,646.6L420.7,643.6L422.2,642.1L423.7,640.5L425.3,639L426.8,640.5L428.3,642.1L430,642.8L430.6,629.9L431.8,632.9L433,636L434.2,637.5L435.5,634.5L436.7,631.4L437.9,634.5L439.1,637.5L440.3,634.5L441.2,629.9L442.5,632.9L443.7,637.5L444.9,640.5L446.1,639L447.3,636L448.6,634.5L449.8,631.4L451,630.6L452.2,631.4L453.4,636L454.7,639L455.9,640.5L457.1,639L458.3,639.8L459.5,642.1L460.8,645.1L462,643.6L463.2,642.1L464.4,639L465.6,632.9L466.9,628.4L468.1,631.4L469.3,636L470.5,632.9L471.7,629.9L473,627.6L474.2,629.9L475.4,632.9L476.6,636L477.8,637.5L479,632.9L480.3,628.4L481.5,632.9L482.7,637.5L483.9,640.5L485.1,645.1L486.4,649.7L487.6,646.6L488.8,642.1L490,636L491.2,642.1L492.5,645.1L493.7,643.6L494.9,642.1L495.8,645.1L496.7,654.3L497.6,663.4L498.6,666.5L506.9,666.5L506.9,667.8Z" fill="#5a9ad6"/>
<path d="M349,667.8L349,594.8L349.8,594.8L350.3,580.6L355.9,580.6L356.4,594.8L357.6,594.8L358.2,580.6L365.8,580.6L366.4,602.4L368.9,602.4L369.5,580.6L393,580.6L393.6,602.4L395.1,602.4L395.7,580.6L402.7,580.6L403.6,594.8L404.5,610.1L405.8,611.6L407,625.3L408.2,640.5L409.4,654.3L410.6,667.8L430,667.8L445.5,667.8L446.3,639.8L448.1,639L448.9,654.3L449.8,667.8L455.3,667.8L456.2,639.8L458.8,639L459.5,654.3L460.5,667.8L497.3,667.8L498.4,654.3L499.2,640.5L501.5,639L502.5,645.1L503.4,640.5L504,611.6L505.3,610.8L505.9,625.3L506.8,640.5L506.9,640.5L506.9,667.8Z" fill="#fdd466" fill-opacity="0.78"/>
<path d="M349,610.1L350,607L351.2,604.7L352.4,603.2L353.6,602.1L354.8,601.2L356.1,600.9L357.3,601.2L358.5,603.2L359.7,605.5L360.9,606.2L362.2,604.7L363.4,603.2L364.6,602.1L365.8,602.4L367,604L368.3,607L369.5,609.3L370.7,610.1L371.9,609.3L373.1,608.8L374.4,610.1L375.6,610.4L376.8,608.5L378,607L379.2,607.8L380.5,609.3L381.7,607.8L382.9,606.2L384.1,607L385.3,608.5L386.5,607.8L387.8,606.2L389,604.7L390.2,604.3L391.4,605.5L392.6,604.7L393.9,603.7L395.1,602.7L396.3,602.4L397.5,604L398.7,605.5L400,606.2L401.2,608.5L402.4,609.3L403.6,607L404.8,606.7L406.1,610.1L407.3,611.3L408.5,611.6L409.7,616.2L410.9,620.7L412.2,623.8L413.4,623L414.6,626.1L415.8,629.1L417,627.6L418.3,623.8L419.5,621.5L420.7,620.7L421.9,623L423.1,624.5L424.4,624.1L425.6,623L426.8,623.5L428,623.8L430,622.3L430.9,620.4L432.1,620L433.3,621.5L434.5,623.5L435.8,624.1L437,622.6L438.2,623.8L439.4,625.3L440.6,626.8L441.9,625.3L443.1,624.1L444.3,623.5L445.5,621.5L446.7,620.7L448,623.8L449.2,626.8L450.4,628.4L451.6,629.6L452.8,628.7L454,625.3L455.3,621.5L456.5,618.4L457.7,617.7L458.9,620.7L460.1,623L461.4,623.8L462.6,622.3L463.8,621L465,620.7L466.2,620.4L467.5,620.7L468.7,619.2L469.9,618.9L471.1,620.4L472.3,623.8L473.6,624.5L474.8,623.5L476,622.3L477.2,619.2L478.4,617.7L479.7,618.4L480.9,616.9L482.1,615.4L483.3,614.9L484.5,615.4L485.8,614.3L487,613.9L488.2,613.1L489.4,613.9L490.6,614.9L491.9,614.6L493.1,615.4L494.3,616.2L495.2,617.4L496.1,613.1L497,609.3L498.3,608.2L499.5,607L500.7,606.2L501.9,606.2L503.1,606.7L504,610.8L505,611.6L505.9,609.3L506.8,607L506.9,606.2" fill="none" stroke="#e21a1a" stroke-width="1.4" stroke-linejoin="round" stroke-linecap="round"/>
<path d="M348.6,580.6V667.8H507.3V580.6" stroke="#111" stroke-width="0.95" fill="none"/>
<path d="M328.2,580.6V667.8M527.8,580.6V667.8" stroke="#111" stroke-width="0.95" fill="none"/>
<path d="M348.6,580.6h-2.4M507.3,580.6h2.4M527.8,580.6h2.4M328.2,580.6h-2.4M348.6,589.3h-1.5M507.3,589.3h1.5M527.8,589.3h1.5M328.2,589.3h-1.5M348.6,598h-2.4M507.3,598h2.4M527.8,598h2.4M328.2,598h-1.5M348.6,606.8h-1.5M507.3,606.8h1.5M527.8,606.8h1.5M328.2,606.8h-1.5M348.6,615.5h-2.4M507.3,615.5h2.4M527.8,615.5h2.4M328.2,615.5h-1.5M348.6,624.2h-1.5M507.3,624.2h1.5M527.8,624.2h1.5M328.2,624.2h-2.4M348.6,632.9h-2.4M507.3,632.9h2.4M527.8,632.9h2.4M328.2,632.9h-1.5M348.6,641.6h-1.5M507.3,641.6h1.5M527.8,641.6h1.5M328.2,641.6h-1.5M348.6,650.4h-2.4M507.3,650.4h2.4M527.8,650.4h2.4M328.2,650.4h-1.5M348.6,659.1h-1.5M507.3,659.1h1.5M527.8,659.1h1.5M328.2,659.1h-1.5M348.6,667.8h-2.4M507.3,667.8h2.4M527.8,667.8h2.4M328.2,667.8h-2.4M348.6,667.8v1.6M361.9,667.8v1.6M375.2,667.8v1.6M388.5,667.8v1.6M401.8,667.8v1.6M415.1,667.8v1.6M428.4,667.8v1.6M441.7,667.8v1.6M455,667.8v1.6M468.3,667.8v1.6M481.6,667.8v1.6M494.9,667.8v1.6" stroke="#111" stroke-width="0.7" fill="none"/>
<g font-size="6.2" fill="#111" stroke="#111" stroke-width="0.15"><text x="345.6" y="582.5" text-anchor="end">100</text><text x="345.6" y="599.9" text-anchor="end">80</text><text x="345.6" y="617.4" text-anchor="end">60</text><text x="345.6" y="634.8" text-anchor="end">40</text><text x="345.6" y="652.3" text-anchor="end">20</text><text x="345.6" y="669.7" text-anchor="end">0</text><text x="511.2" y="582.6">1</text><text x="511.2" y="600">0.8</text><text x="511.2" y="617.5">0.6</text><text x="511.2" y="634.9">0.4</text><text x="511.2" y="652.4">0.2</text><text x="511.2" y="669.8">0</text><text x="531.7" y="582.6">37</text><text x="531.7" y="600">35</text><text x="531.7" y="617.5">33</text><text x="531.7" y="634.9">31</text><text x="531.7" y="652.4">29</text><text x="531.7" y="669.8">27</text><text x="324.8" y="582.5" text-anchor="end">90</text><text x="324.8" y="626.1" text-anchor="end">45</text><text x="324.8" y="669.7" text-anchor="end">0</text><text x="348.6" y="674.4" text-anchor="middle">0</text><text x="361.9" y="674.4" text-anchor="middle">2</text><text x="375.2" y="674.4" text-anchor="middle">4</text><text x="388.5" y="674.4" text-anchor="middle">6</text><text x="401.8" y="674.4" text-anchor="middle">8</text><text x="415.1" y="674.4" text-anchor="middle">10</text><text x="428.4" y="674.4" text-anchor="middle">12</text><text x="441.7" y="674.4" text-anchor="middle">14</text><text x="455" y="674.4" text-anchor="middle">16</text><text x="468.3" y="674.4" text-anchor="middle">18</text><text x="481.6" y="674.4" text-anchor="middle">20</text><text x="494.9" y="674.4" text-anchor="middle">22</text></g>
<g font-size="6.6" fill="#111" stroke="#111" stroke-width="0.18" text-anchor="middle">
<text transform="translate(316.6,615.7) rotate(-90)">Position (°)</text>
<text transform="translate(338.1,619.2) rotate(-90)">Activity (°/min)</text>
<text transform="translate(519.4,624.8) rotate(90)">Sleep (AU)</text>
<text transform="translate(538.7,624.7) rotate(90)">Temperature (°C)</text>
<text x="424.1" y="682.6" font-size="6.2">Time (h)</text>
</g>
</g>
</svg></body></html>
